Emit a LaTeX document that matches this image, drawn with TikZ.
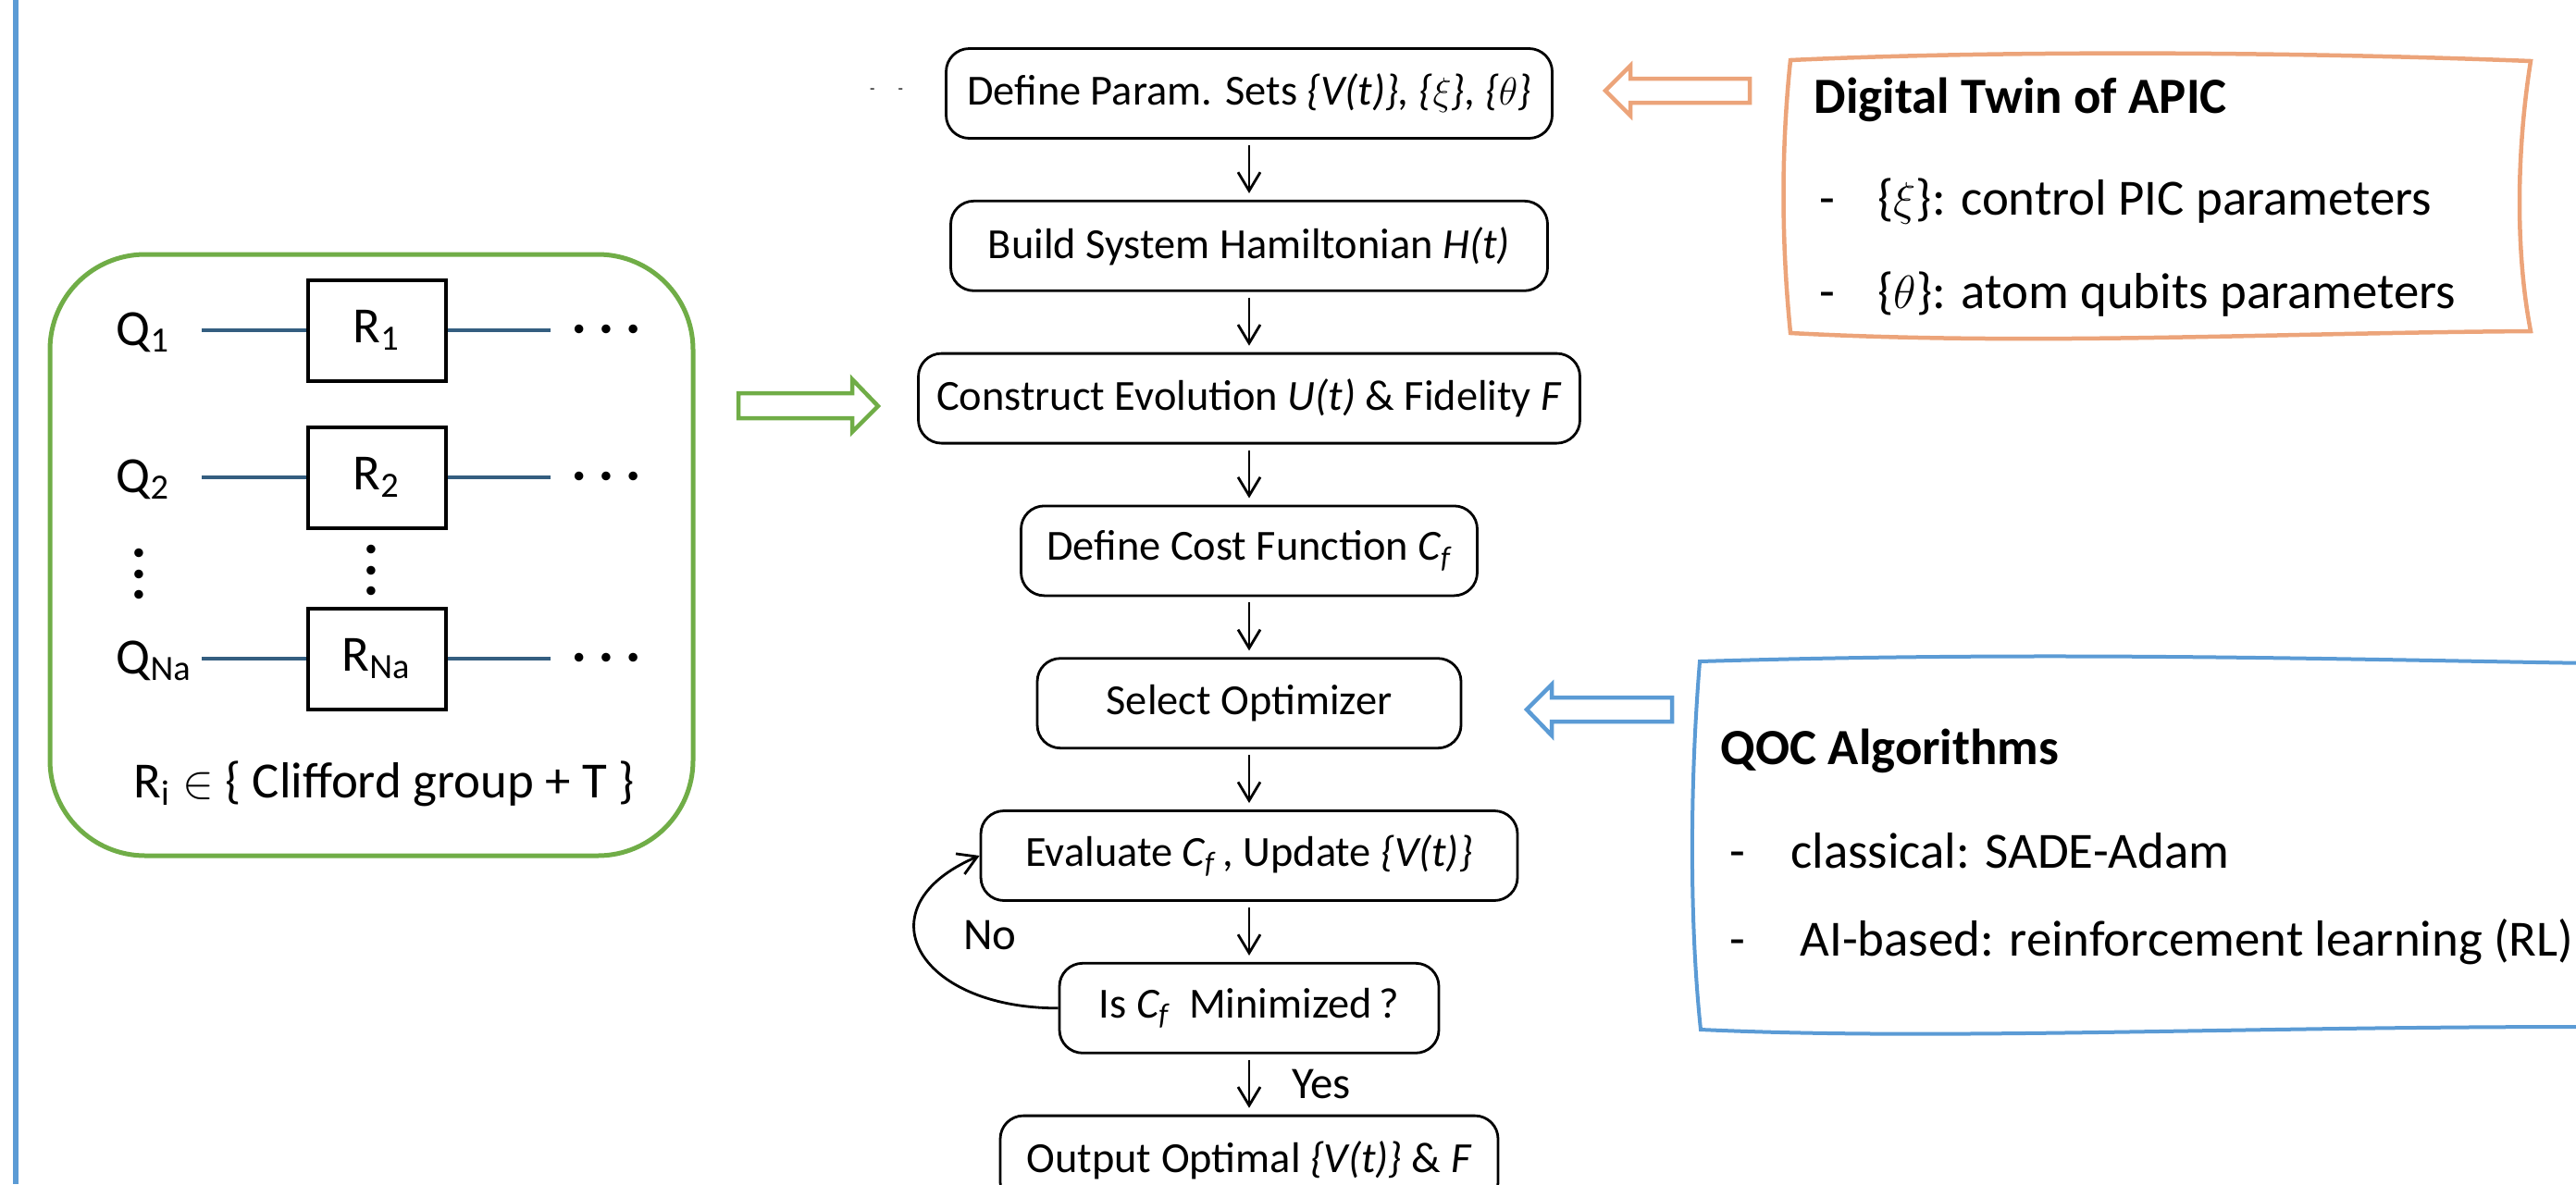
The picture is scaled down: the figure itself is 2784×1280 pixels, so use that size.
\documentclass[tikz,border=0pt]{standalone}
\usepackage{fontspec}
\setmainfont{Carlito}
\definecolor{myblue}{RGB}{91,155,213}
\definecolor{mygreen}{RGB}{112,173,71}
\definecolor{myorange}{RGB}{236,164,122}
\definecolor{mywire}{RGB}{52,94,128}
\usetikzlibrary{positioning,chains,arrows.meta}

\begin{document}
\begin{tikzpicture}[x=0.1mm,y=-0.1mm,
    every node/.style={font=\fontsize{13.2}{16}\selectfont},
    fbox/.style={draw,rounded corners=2.5mm,line width=0.28mm,minimum height=9.7mm,inner sep=1mm},
    farrow/.style={line width=0.28mm,-{Straight Barb[length=2mm,width=2.4mm]}},
    side/.style={font=\fontsize{15.6}{18}\selectfont,anchor=west,inner sep=0pt},
    gate/.style={draw,line width=0.4mm,minimum width=14.9mm,minimum height=10.9mm,inner sep=0pt,font=\fontsize{15.6}{18}\selectfont},
    dotrow/.style={font=\fontsize{7.6}{6.5}\selectfont,inner sep=0pt,align=center},
    wire/.style={mywire,line width=0.35mm},
    hollow/.style={line width=0.45mm,line join=miter},
    tag/.style={font=\fontsize{13.9}{16}\selectfont},
    shorten >= 0.7mm,shorten <= 0.6mm
    ]
    \useasboundingbox (0,0) rectangle (2784,1280);

    % the left border
    \draw[myblue,line width=0.55mm,shorten >=0pt,shorten <=0pt] (17,0) -- (17,1280);

    % the circuit
    \draw[mygreen,line width=0.5mm,rounded corners=10.3mm] (54,275) rectangle (749,925);
    \foreach \i/\y/\s in {1/357/1,2/516/2,3/712/Na} {
    \node[side,anchor=base west,yshift=-1.6mm] (q\i) at (125,\y) {Q\textsubscript{\s}};
    \node[gate] (r\i) at (407,\y) {R\textsubscript{\s}};
    \node[dotrow] (d\i) at (655,\y) {\textbullet\hspace{1.6mm}\textbullet\hspace{1.6mm}\textbullet};
    \coordinate (wl\i) at (218,\y);
    \coordinate (wr\i) at (595,\y);
    \draw[wire,shorten >=0pt,shorten <=0pt] (wl\i) -- (r\i);
    \draw[wire,shorten >=0pt,shorten <=0pt] (r\i) -- (wr\i);
    }
    \node[dotrow] (vq) at (150,622) {\textbullet\\\textbullet\\\textbullet};
    \node[dotrow] (vr) at (401,618) {\textbullet\\\textbullet\\\textbullet};
    \node[side,anchor=base] (rset) at (415,862) {R\textsubscript{i} $\in$ \{ Clifford group + T \}};

    % the flow
    \begin{scope}[start chain=going below,node distance=6.5mm]
    \node[fbox,on chain,minimum width=65.5mm] (f1) at (1350,101) {Define Param. Sets \textit{\{V(t)\}, \{$\xi$\}, \{$\theta$\}}};
    \node[fbox,on chain,minimum width=64.5mm] (f2) {Build System Hamiltonian \textit{H(t)}};
    \node[fbox,on chain,minimum width=71.5mm] (f3) {Construct Evolution \textit{U(t)} \& Fidelity \textit{F}};
    \node[fbox,on chain,minimum width=49.3mm] (f4) {Define Cost Function \textit{C\textsubscript{f}}};
    \node[fbox,on chain,minimum width=45.8mm] (f5) {Select Optimizer};
    \node[fbox,on chain,minimum width=58mm] (f6) {Evaluate \textit{C\textsubscript{f}}\,, Update \textit{\{V(t)\}}};
    \node[fbox,on chain,minimum width=41mm] (f7) {Is \textit{C\textsubscript{f}}\ \ Minimized\,?};
    \node[fbox,on chain,minimum width=53.8mm] (f8) {Output Optimal \textit{\{V(t)\}} \& \textit{F}};
    \end{scope}
    \node[font=\fontsize{5}{5}\selectfont] (dd) at (958,99) {-\hspace{2.5mm}-};

    % the arrows
    \foreach \a/\b in {1/2,2/3,3/4,4/5,5/6,6/7}
    \draw[farrow] (f\a) -- (f\b);
    \draw[farrow] (f7) -- node[tag,right=3.3mm] (yes) {Yes} (f8);
    \draw[farrow,shorten <=0pt,shorten >=0pt] (f7.west) .. controls (990,1090) and (930,980) .. (f6.west);
    \node[tag] (no) at (1070,1011) {No};

    % the hollow arrows
    \draw[mygreen,hollow] (798,425) -- (921,425) -- (921,410) -- (949,439) -- (921,467) -- (921,452) -- (798,452) -- cycle;
    \draw[myorange,hollow] (1891,85) -- (1762,85) -- (1762,71) -- (1735,98) -- (1762,125) -- (1762,111) -- (1891,111) -- cycle;
    \draw[myblue,hollow] (1807,754) -- (1677,754) -- (1677,740) -- (1650,767) -- (1677,795) -- (1677,780) -- (1807,780) -- cycle;

    % the digital twin
    \draw[myorange,line width=0.45mm] (1935,65) .. controls (2150,55) and (2450,55) .. (2735,66) .. controls (2720,160) and (2718,270) .. (2735,358) .. controls (2450,360) and (2200,374) .. (1935,360) .. controls (1925,260) and (1925,160) .. (1935,65) -- cycle;
    \node[side] (tw) at (1960,108) {\bfseries Digital Twin of APIC};
    \node[side] (tw1) at (1966,218) {-\hspace{4.6mm}\{$\xi$\}: control PIC parameters};
    \node[side] (tw2) at (1966,318) {-\hspace{4.6mm}\{$\theta$\}: atom qubits parameters};

    % the algorithms
    \draw[myblue,line width=0.4mm] (2800,717) .. controls (2500,712) and (2200,704) .. (1837,715) .. controls (1826,850) and (1826,1000) .. (1838,1113) .. controls (2100,1125) and (2400,1110) .. (2800,1110);
    \node[side] (qoc) at (1859,812) {\bfseries QOC Algorithms};
    \node[side] (qoc1) at (1869,920) {-\hspace{4.9mm}classical: SADE-Adam};
    \node[side] (qoc2) at (1869,1018) {-\hspace{5.9mm}AI-based: reinforcement learning (RL)};
\end{tikzpicture}
\end{document}
